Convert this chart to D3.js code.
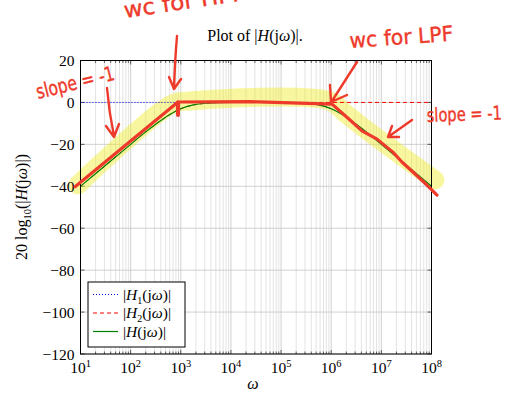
<!DOCTYPE html>
<html>
<head>
<meta charset="utf-8">
<script src="https://cdn.jsdelivr.net/npm/d3@7"></script>
<style>
body { margin: 0; background: #fff; }
svg text { font-family: "Liberation Serif", "DejaVu Serif", serif; fill: #000; }
svg text.hand { font-family: "DejaVu Sans", sans-serif; fill: #ee3a2b; stroke: #ee3a2b; stroke-width: 0.4; }
</style>
</head>
<body>
<div id="chart"></div>
<script>
// chart size
var svgWidth = 506;
var svgHeight = 396;

var margin = {top: 60.5, right: 74.5, bottom: 42, left: 80.5};
var width = svgWidth - margin.left - margin.right;
var height = svgHeight - margin.top - margin.bottom;

// frequencies (quarter decades) and magnitudes in dB
var omega = [1e1, 1.78e1, 3.16e1, 5.62e1, 1e2, 1.78e2, 3.16e2, 5.62e2, 1e3, 1.78e3, 3.16e3, 5.62e3,
             1e4, 1.78e4, 3.16e4, 5.62e4, 1e5, 1.78e5, 3.16e5, 5.62e5, 1e6, 1.78e6, 3.16e6, 5.62e6,
             1e7, 1.78e7, 3.16e7, 5.62e7, 1e8];
var h1dB = [0, 0, 0, 0, 0, 0, 0, 0, 0, 0, 0, 0,
            0, 0, 0, 0, 0, -0.1, -0.4, -1.2, -3, -6.2, -10.4, -15,
            -20, -25, -30, -35, -40];
var h2dB = [-40, -35, -30, -25, -20, -15, -10.4, -6.2, -3, -1.2, -0.4, -0.1,
            0, 0, 0, 0, 0, 0, 0, 0, 0, 0, 0, 0,
            0, 0, 0, 0, 0];
var hdB = [-40, -35, -30, -25, -20, -15, -10.4, -6.2, -3, -1.2, -0.4, -0.1,
           0, 0, 0, 0, 0, -0.1, -0.4, -1.2, -3, -6.2, -10.4, -15,
           -20, -25, -30, -35, -40];

// hand drawn asymptote sketch and highlighter (in omega / dB)
var sketchOmega = [7.8, 879, 2.4e4, 1.04e6, 2.37e6, 4.1e6, 8.2e6, 1.7e7, 2.57e7, 4.27e7, 8.1e7, 1.29e8];
var sketchDb = [-40.2, 0.2, 0.4, -0.8, -8.4, -13.6, -17.5, -23.7, -28.4, -33.2, -39.4, -44.2];
var markOmega = [8.9, 668, 1.5e3, 9.4e5, 1.87e6, 9.3e6, 3.7e7, 1.17e8];
var markDb = [-39.3, -0.8, 0.7, 0.7, -5, -17.9, -28.4, -37];

var xTicks = [1e1, 1e2, 1e3, 1e4, 1e5, 1e6, 1e7, 1e8];
var xTickExp = ["1", "2", "3", "4", "5", "6", "7", "8"];
var yTicks = [-120, -100, -80, -60, -40, -20, 0, 20];

var svg = d3.select("#chart")
  .append("svg")
  .attr("width", svgWidth)
  .attr("height", svgHeight);

var chartGroup = svg.append("g")
  .attr("transform", `translate(${margin.left}, ${margin.top})`);

var x = d3.scaleLog().domain([1e1, 1e8]).range([0, width]);
var y = d3.scaleLinear().domain([-120, 20]).range([height, 0]);

// write mixed upright / italic / subscript text as tspans
function richText(sel, parts, small) {
  var shift = 0;
  parts.forEach(function(p) {
    var t = sel.append("tspan").text(p[0]);
    var want = p[1] === "sub" ? 4 : (p[1] === "sup" ? -6 : 0);
    t.attr("dy", want - shift);
    shift = want;
    if (p[1] === "i") t.style("font-style", "italic");
    if (p[1] === "sub" || p[1] === "sup") t.style("font-size", small || "10.5px");
  });
}

// grid
var minorX = x.ticks().filter(d => xTicks.indexOf(d) < 0);
chartGroup.append("g").selectAll("line")
  .data(minorX)
  .enter()
  .append("line")
  .attr("x1", d => x(d)).attr("x2", d => x(d))
  .attr("y1", 0).attr("y2", height)
  .attr("stroke", "#dcdcdc")
  .attr("stroke-width", 0.8);

chartGroup.append("g").selectAll("line")
  .data(xTicks)
  .enter()
  .append("line")
  .attr("x1", d => x(d)).attr("x2", d => x(d))
  .attr("y1", 0).attr("y2", height)
  .attr("stroke", "#c4c4c4")
  .attr("stroke-width", 0.8);

chartGroup.append("g").selectAll("line")
  .data(yTicks)
  .enter()
  .append("line")
  .attr("x1", 0).attr("x2", width)
  .attr("y1", d => y(d)).attr("y2", d => y(d))
  .attr("stroke", "#c4c4c4")
  .attr("stroke-width", 0.8);

// inward ticks
var tickG = chartGroup.append("g").attr("stroke", "#000").attr("stroke-width", 0.6);
[[minorX, 2.5], [xTicks, 4]].forEach(function(set) {
  tickG.selectAll(null).data(set[0]).enter().append("line")
    .attr("x1", d => x(d)).attr("x2", d => x(d))
    .attr("y1", height).attr("y2", height - set[1]);
  tickG.selectAll(null).data(set[0]).enter().append("line")
    .attr("x1", d => x(d)).attr("x2", d => x(d))
    .attr("y1", 0).attr("y2", set[1]);
});
tickG.selectAll(null).data(yTicks).enter().append("line")
  .attr("x1", 0).attr("x2", 4)
  .attr("y1", d => y(d)).attr("y2", d => y(d));
tickG.selectAll(null).data(yTicks).enter().append("line")
  .attr("x1", width).attr("x2", width - 4)
  .attr("y1", d => y(d)).attr("y2", d => y(d));

// highlighter (under the curves)
var markLine = d3.line()
  .x(d => x(d[0]))
  .y(d => y(d[1]))
  .curve(d3.curveCatmullRom);

chartGroup.append("path")
  .datum(markOmega.map((w, i) => [w, markDb[i]]))
  .attr("d", markLine)
  .attr("fill", "none")
  .attr("stroke", "rgba(240,238,45,0.45)")
  .attr("stroke-width", 19)
  .attr("stroke-linecap", "round")
  .attr("stroke-linejoin", "round");

// curves
var clip = svg.append("clipPath").attr("id", "plotclip")
  .append("rect").attr("width", width).attr("height", height);

var curveLine = d3.line()
  .x(d => x(d[0]))
  .y(d => y(d[1]))
  .curve(d3.curveMonotoneX);

var series = [
  {vals: h1dB, color: "#0000ff", dash: "1,2", w: 1},
  {vals: h2dB, color: "#ff0000", dash: "4,3", w: 1},
  {vals: hdB, color: "#008000", dash: null, w: 1.2}
];

var curveGroup = chartGroup.append("g").attr("clip-path", "url(#plotclip)");
series.forEach(function(s) {
  curveGroup.append("path")
    .datum(omega.map((w, i) => [w, s.vals[i]]))
    .attr("d", curveLine)
    .attr("fill", "none")
    .attr("stroke", s.color)
    .attr("stroke-width", s.w)
    .attr("stroke-dasharray", s.dash);
});

// frame
chartGroup.append("rect")
  .attr("width", width)
  .attr("height", height)
  .attr("fill", "none")
  .attr("stroke", "#000")
  .attr("stroke-width", 1);

// y tick labels
var leftAxis = d3.axisLeft(y).tickValues(yTicks).tickSize(0).tickPadding(6);
var yAxis = chartGroup.append("g").call(leftAxis);
yAxis.select(".domain").remove();
yAxis.selectAll("text")
  .style("font-family", '"Liberation Serif", serif')
  .style("font-size", "15.5px")
  .attr("dy", "0.34em");

// x tick labels as powers of ten
chartGroup.append("g").selectAll("text")
  .data(xTicks)
  .enter()
  .append("text")
  .attr("x", d => x(d))
  .attr("y", height + 19)
  .attr("text-anchor", "middle")
  .style("font-size", "15.5px")
  .each(function(d, i) {
    richText(d3.select(this), [["10", ""], [xTickExp[i], "sup"]]);
  });

// axis titles
svg.append("text")
  .attr("x", 253)
  .attr("y", 389)
  .attr("text-anchor", "middle")
  .style("font-size", "16px")
  .style("font-style", "italic")
  .text("ω");

var yTitle = svg.append("text")
  .attr("transform", "translate(27, 207) rotate(-90)")
  .attr("text-anchor", "middle")
  .style("font-size", "16px");
richText(yTitle, [["20 log", ""], ["10", "sub"], ["(|", ""], ["H", "i"], ["(j", ""], ["ω", "i"], [")|)", ""]]);

var title = svg.append("text")
  .attr("x", margin.left + width / 2 - 1)
  .attr("y", 41)
  .attr("text-anchor", "middle")
  .style("font-size", "16px");
richText(title, [["Plot of |", ""], ["H", "i"], ["(j", ""], ["ω", "i"], [")|.", ""]]);

// legend
var legend = chartGroup.append("g").attr("transform", `translate(${88 - margin.left}, ${282 - margin.top})`);
legend.append("rect")
  .attr("width", 97)
  .attr("height", 65)
  .attr("fill", "#fff")
  .attr("stroke", "#000")
  .attr("stroke-width", 1);

var legendLabels = [
  [["|", ""], ["H", "i"], ["1", "sub"], ["(j", ""], ["ω", "i"], [")|", ""]],
  [["|", ""], ["H", "i"], ["2", "sub"], ["(j", ""], ["ω", "i"], [")|", ""]],
  [["|", ""], ["H", "i"], ["(j", ""], ["ω", "i"], [")|", ""]]
];
series.forEach(function(s, i) {
  var ly = 12.5 + i * 18.5;
  legend.append("line")
    .attr("x1", 5).attr("x2", 30)
    .attr("y1", ly).attr("y2", ly)
    .attr("stroke", s.color)
    .attr("stroke-width", s.w)
    .attr("stroke-dasharray", s.dash);
  var t = legend.append("text")
    .attr("x", 35)
    .attr("y", ly + 5)
    .style("font-size", "15.5px");
  richText(t, legendLabels[i], "10px");
});

// red marker sketch over everything
var sketch = chartGroup.append("g")
  .attr("stroke", "#ee3a2b")
  .attr("fill", "none")
  .attr("stroke-linecap", "round")
  .attr("stroke-linejoin", "round");

sketch.append("path")
  .datum(sketchOmega.map((w, i) => [w, sketchDb[i]]))
  .attr("d", d3.line().x(d => x(d[0])).y(d => y(d[1])))
  .attr("stroke-width", 3.2);

sketch.append("line")
  .attr("x1", x(879)).attr("x2", x(879))
  .attr("y1", y(0)).attr("y2", y(-6))
  .attr("stroke-width", 4);

// arrows and notes (page coordinates)
var notes = svg.append("g")
  .attr("stroke", "#ee3a2b")
  .attr("fill", "none")
  .attr("stroke-width", 2.4)
  .attr("stroke-linecap", "round")
  .attr("stroke-linejoin", "round");

var arrowPaths = [
  "M107,88 Q109,112 114,136 M106,126 L114,137 L119,124",
  "M177,36 Q175,60 174,88 M169,77 L174,89 L181,79",
  "M357,62 L332,101 M330,85 L331,102 L347,95",
  "M412,120 L388,137 M392,126 L388,137 L399,137"
];
notes.selectAll("path")
  .data(arrowPaths)
  .enter()
  .append("path")
  .attr("d", d => d);

var handNotes = [
  {text: "wc for HPF", x: 125, y: 18, rot: -8.5, size: 22, len: 122},
  {text: "wc for LPF", x: 350, y: 48, rot: -4, size: 21, len: 104},
  {text: "slope = -1", x: 38, y: 99, rot: -14, size: 20, len: 80},
  {text: "slope = -1", x: 427, y: 122, rot: -2, size: 19, len: 75}
];
svg.append("g").selectAll("text")
  .data(handNotes)
  .enter()
  .append("text")
  .attr("class", "hand")
  .attr("transform", d => `translate(${d.x}, ${d.y}) rotate(${d.rot})`)
  .attr("textLength", d => d.len)
  .attr("lengthAdjust", "spacingAndGlyphs")
  .style("font-size", d => d.size + "px")
  .text(d => d.text);
</script>
</body>
</html>
